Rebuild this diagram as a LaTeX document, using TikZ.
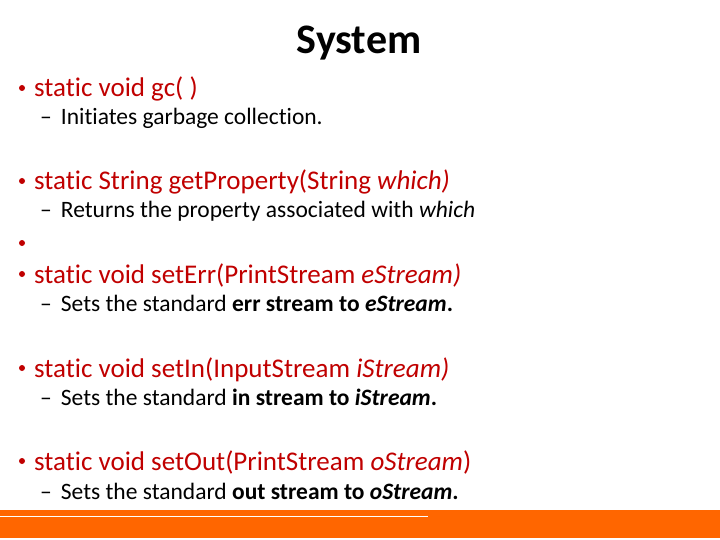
\documentclass[tikz,border=0pt]{standalone}
\usepackage{fontspec}
\setmainfont[RawFeature=-liga]{Carlito}
\definecolor{tred}{HTML}{C00000}
\definecolor{bar}{HTML}{FF6600}
\begin{document}
\begin{tikzpicture}[x=1pt,y=-1pt,
 main/.style={anchor=base west,inner sep=0,text=tred,font=\fontsize{27}{29}\selectfont},
 sub/.style={anchor=base west,inner sep=0,font=\fontsize{23.5}{25}\selectfont},
 bul/.style={circle,fill=tred,inner sep=0,minimum size=6pt}]
\useasboundingbox (0,0) rectangle (720,540);
\fill[bar] (0,510) rectangle (720,538);
\draw[white,line width=1pt] (0,516.5) -- (428,516.5);
\node[anchor=base,inner sep=0,font=\fontsize{42}{44}\selectfont\bfseries] (t) at (359,54) {System};
\node[bul] (b1) at (22,88) {};
\node[main] (m1) at (34,97) {static void gc( )};
\node[sub] (s1) at (40,125) {–\hspace{9pt}Initiates garbage collection.};
\node[bul] (b2) at (22,181) {};
\node[main] (m2) at (34,190) {static String getProperty(String \textit{which)}};
\node[sub] (s2) at (40,218) {–\hspace{9pt}Returns the property associated with \textit{which}};
\node[bul] (b3) at (22,243) {};
\node[bul] (b4) at (22,274) {};
\node[main] (m4) at (34,283) {static void setErr(PrintStream \textit{eStream)}};
\node[sub] (s4) at (40,311) {–\hspace{9pt}Sets the standard \textbf{err stream to \textit{eStream}.}};
\node[bul] (b5) at (22,368) {};
\node[main] (m5) at (34,377) {static void setIn(InputStream \textit{iStream)}};
\node[sub] (s5) at (40,405) {–\hspace{9pt}Sets the standard \textbf{in stream to \textit{iStream}.}};
\node[bul] (b6) at (22,461) {};
\node[main] (m6) at (34,470) {static void setOut(PrintStream \textit{oStream})};
\node[sub] (s6) at (40,499) {–\hspace{9pt}Sets the standard \textbf{out stream to \textit{oStream}.}};
\end{tikzpicture}
\end{document}
